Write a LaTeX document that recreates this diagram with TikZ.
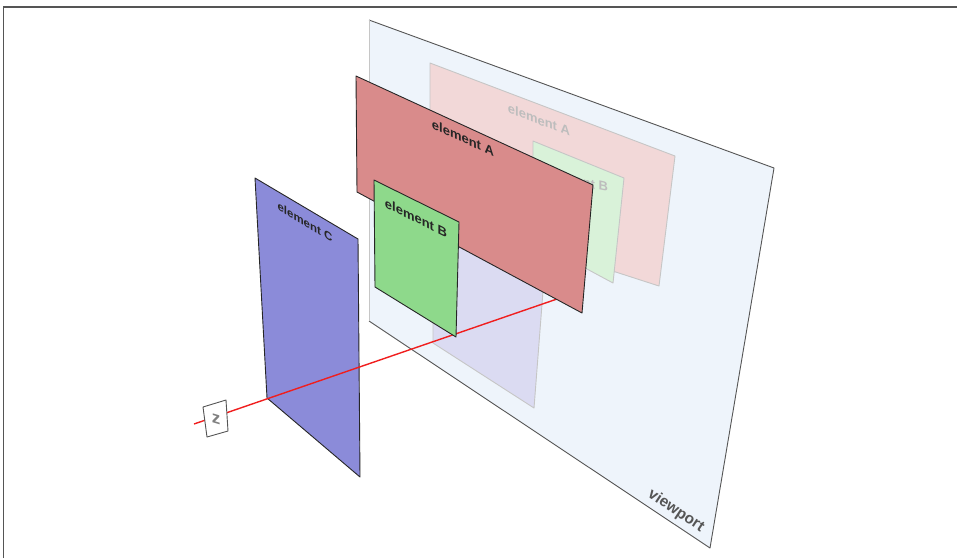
\documentclass[tikz,border=0pt]{standalone}
\usepackage{fontspec}
\setmainfont{Liberation Sans}
\definecolor{paneblue}{HTML}{EEF4FB}
\definecolor{edge}{HTML}{555555}
\definecolor{rose}{HTML}{D98B8B}
\definecolor{mint}{HTML}{8ED98B}
\definecolor{iris}{HTML}{8B8BD9}
\definecolor{rosefade}{HTML}{F2D8D8}
\definecolor{mintfade}{HTML}{D9F2D9}
\definecolor{irisfade}{HTML}{DBDBF2}
\definecolor{fadeedge}{HTML}{C6C6C6}
\definecolor{fadetext}{HTML}{BDBDBD}
\definecolor{ray}{HTML}{F01E1E}

\begin{document}
\begin{tikzpicture}[x=1pt,y=-1pt,
  layer/.style={draw=black!85,line width=0.9pt,line join=round},
  ghost/.style={draw=fadeedge,line width=0.9pt,line join=round},
  tag/.style={font=\bfseries\fontsize{13}{13}\selectfont,inner sep=0pt}]
  \useasboundingbox (0,0) rectangle (957,558);
  % frame
  \coordinate (fr1) at (3.5,558);
  \coordinate (fr2) at (957,7);
  \draw[edge,line width=1.6pt] (fr1) |- (fr2);
  % viewport
  \coordinate (vp1) at (369,20);
  \coordinate (vp2) at (774,168);
  \coordinate (vp3) at (710,548);
  \coordinate (vp4) at (369,321);
  \fill[paneblue] (vp1) -- (vp2) -- (vp3) -- (vp4) -- cycle;
  \draw[edge,line width=0.9pt,line join=round] (vp1) -- (vp2) -- (vp3) -- (vp4);
  \draw[fadeedge,line width=0.9pt] (vp4) -- (vp1);
  \node[tag,text=edge,rotate=-33.5,font=\bfseries\fontsize{15.5}{15.5}\selectfont] (vplab) at (676,511) {viewport};
  % projections on the viewport
  \coordinate (fc1) at (433,222);
  \coordinate (fc2) at (545,265);
  \coordinate (fc3) at (534,408);
  \coordinate (fc4) at (433,343);
  \draw[ghost,fill=irisfade] (fc1) -- (fc2) -- (fc3) -- (fc4) -- cycle;
  \coordinate (fa1) at (430,63);
  \coordinate (fa2) at (675,156);
  \coordinate (fa3) at (659,286);
  \coordinate (fa4) at (430,212);
  \draw[ghost,fill=rosefade] (fa1) -- (fa2) -- (fa3) -- (fa4) -- cycle;
  \node[tag,text=fadetext,yslant=-0.38] (falab) at (539,120) {element A};
  \coordinate (fb1) at (533,141);
  \coordinate (fb2) at (624,178);
  \coordinate (fb3) at (613,283);
  \coordinate (fb4) at (533,240);
  \draw[ghost,fill=mintfade] (fb1) -- (fb2) -- (fb3) -- (fb4) -- cycle;
  \node[tag,text=fadetext,yslant=-0.22] (fblab) at (577,180.5) {element B};
  % element C
  \coordinate (c1) at (255,178);
  \coordinate (c2) at (358,239);
  \coordinate (c3) at (360,477);
  \coordinate (c4) at (267,398);
  \draw[layer,fill=iris] (c1) -- (c2) -- (c3) -- (c4) -- cycle;
  \node[tag,text=black!85,yslant=-0.59,font=\bfseries\fontsize{11.5}{11.5}\selectfont] (clab) at (305,222) {element C};
  % z axis
  \coordinate (zin) at (194,424);
  \coordinate (zout) at (557,299);
  \draw[ray,line width=1.4pt] (zin) -- (zout);
  % element A
  \coordinate (a1) at (356,76);
  \coordinate (a2) at (593,185);
  \coordinate (a3) at (582,313);
  \coordinate (a4) at (357,192);
  \draw[layer,fill=rose] (a1) -- (a2) -- (a3) -- (a4) -- cycle;
  \node[tag,text=black!85,yslant=-0.46] (alab) at (463,138) {element A};
  % element B
  \coordinate (b1) at (374,180);
  \coordinate (b2) at (459,222);
  \coordinate (b3) at (456,337);
  \coordinate (b4) at (375,287);
  \draw[layer,fill=mint] (b1) -- (b2) -- (b3) -- (b4) -- cycle;
  \node[tag,text=black!85,yslant=-0.49] (blab) at (416,218) {element B};
  % z tag
  \coordinate (z1) at (203,407);
  \coordinate (z2) at (226,400);
  \coordinate (z3) at (228,431);
  \coordinate (z4) at (207,437);
  \draw[edge,fill=white,line width=0.9pt,line join=round] (z1) -- (z2) -- (z3) -- (z4) -- cycle;
  \node[tag,text=gray,yslant=-0.3,font=\bfseries\fontsize{17}{17}\selectfont] (zlab) at (216,419) {z};
\end{tikzpicture}
\end{document}
